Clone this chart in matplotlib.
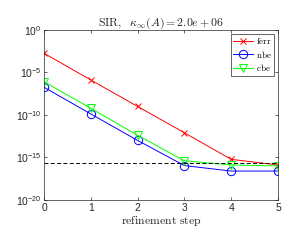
import numpy as np
import matplotlib
matplotlib.use("Agg")
import matplotlib.pyplot as plt
from matplotlib.ticker import FixedLocator, FuncFormatter

plt.rcParams['mathtext.fontset'] = 'cm'
plt.rcParams['font.family'] = ['Liberation Sans', 'DejaVu Sans']

steps = [0, 1, 2, 3, 4, 5]
ferr = [1.8e-3, 1.3e-6, 1.0e-9, 8.0e-13, 6.0e-16, 1.3e-16]
nbe = [1.8e-7, 1.3e-10, 1.0e-13, 1.1e-16, 2.5e-17, 2.5e-17]
cbe = [8.0e-7, 6.0e-10, 4.0e-13, 4.0e-16, 1.3e-16, 1.0e-16]
unit_roundoff = 2.2e-16
yticks = [1e-20, 1e-15, 1e-10, 1e-5, 1e0]

fig = plt.figure(figsize=(2.92, 2.40), dpi=100)
ax = fig.add_axes([0.151, 0.167, 0.801, 0.708])

ax.semilogy(steps, ferr, 'r-x', lw=0.7, ms=4, mew=0.7, label=r'$\mathrm{ferr}$')
ax.semilogy(steps, nbe, 'b-o', lw=0.7, ms=6, mew=0.7, mfc='none', label=r'$\mathrm{nbe}$')
ax.semilogy(steps, cbe, '-v', color='#00ff00', lw=0.7, ms=6, mew=0.7, mfc='none',
            label=r'$\mathrm{cbe}$')
ax.axhline(unit_roundoff, color='k', ls='--', lw=0.7, dashes=(4, 2.5))

ax.set_xlim(0, 5)
ax.set_ylim(1e-20, 1e0)
ax.yaxis.set_major_locator(FixedLocator(yticks))
ax.yaxis.set_minor_locator(FixedLocator([]))
ax.yaxis.set_major_formatter(FuncFormatter(
    lambda v, p: r'$\mathregular{10^{%d}}$' % round(np.log10(v))))
ax.set_xticks(steps)
ax.tick_params(direction='in', length=2.5, width=0.5, labelsize=7.5,
               top=True, right=True, colors='#262626', pad=2)
for s in ax.spines.values():
    s.set_linewidth(0.5)
    s.set_color('#262626')

ax.set_title(r'$\mathrm{SIR,}\ \ \kappa_\infty(A) = 2.0e+06$', fontsize=8.5,
             color='#262626', pad=3)
ax.set_xlabel(r'$\mathrm{refinement\ step}$', fontsize=8.5, color='#262626', labelpad=1)

leg = ax.legend(loc='upper right', prop={'size': 6.5},
                fancybox=False, edgecolor='#262626', framealpha=1,
                borderpad=0.3, labelspacing=0.25, handlelength=2.2,
                handletextpad=0.3, borderaxespad=0.4)
leg.get_frame().set_linewidth(0.5)

fig.savefig('out.png', dpi=100)
